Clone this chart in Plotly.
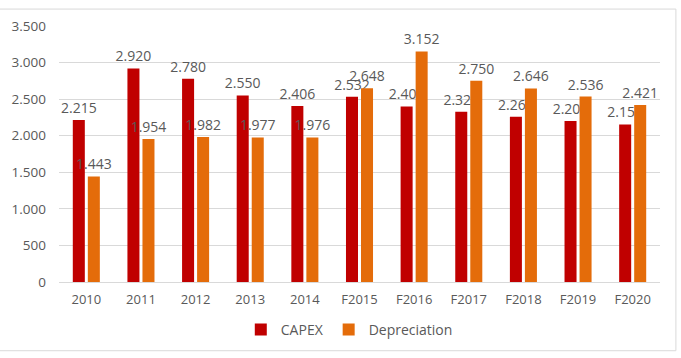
import plotly.graph_objects as go

categories = ["2010", "2011", "2012", "2013", "2014", "F2015", "F2016", "F2017", "F2018", "F2019", "F2020"]
capex = [2215, 2920, 2780, 2550, 2406, 2532, 2401, 2327, 2260, 2201, 2155]
depreciation = [1443, 1954, 1982, 1977, 1976, 2648, 3152, 2750, 2646, 2536, 2421]
y_ticks = [0, 500, 1000, 1500, 2000, 2500, 3000, 3500]

FONT = "Open Sans"
GREY = "#595959"

W, H = 681, 358
L, R, T, B = 55, 21, 26, 75
pw, ph = W - L - R, H - T - B

def px_x(x):
    return (x - L) / pw

def px_y(y):
    return (H - B - y) / ph

fig = go.Figure()
fig.add_trace(go.Bar(
    x=categories, y=capex, name="CAPEX",
    marker=dict(color="#C00000", line=dict(width=0)),
    texttemplate="%{y:,.0f}", textposition="outside",
    textfont=dict(color=GREY, size=14, family=FONT),
    constraintext="none", cliponaxis=False,
))
fig.add_trace(go.Bar(
    x=categories, y=depreciation, name="Depreciation",
    marker=dict(color="#E46C0A", line=dict(width=0)),
    texttemplate="%{y:,.0f}", textposition="outside",
    textfont=dict(color=GREY, size=14, family=FONT),
    constraintext="none", cliponaxis=False,
))

fig.update_layout(
    width=W, height=H,
    margin=dict(l=L, r=R, t=T, b=B),
    paper_bgcolor="white", plot_bgcolor="white",
    separators=",.",
    barmode="group", bargap=0.45, bargroupgap=0.2,
    font=dict(family=FONT, color=GREY, size=13),
    showlegend=True,
    legend=dict(
        orientation="h", x=px_x(238), xanchor="left", y=px_y(331), yanchor="middle",
        font=dict(size=14, color=GREY, family=FONT),
        itemwidth=30, traceorder="normal",
        bgcolor="rgba(0,0,0,0)",
    ),
    xaxis=dict(
        showgrid=False, showline=True, linecolor="#D9D9D9", linewidth=1,
        ticks="", tickfont=dict(size=13, color=GREY, family=FONT),
        ticklabelstandoff=5,
    ),
    yaxis=dict(
        range=[0, 3500], tickvals=y_ticks, tickformat=",d",
        showgrid=True, gridcolor="#D9D9D9", gridwidth=1,
        zeroline=False, showline=False, ticks="",
        tickfont=dict(size=13.5, color=GREY, family=FONT),
        ticklabelstandoff=12,
    ),
    shapes=[
        dict(type="rect", xref="paper", yref="paper",
             x0=px_x(-5), x1=px_x(676), y0=px_y(352), y1=px_y(9),
             line=dict(color="#D9D9D9", width=1), fillcolor="rgba(0,0,0,0)",
             layer="below"),
    ],
)

fig.write_html("out.html")
